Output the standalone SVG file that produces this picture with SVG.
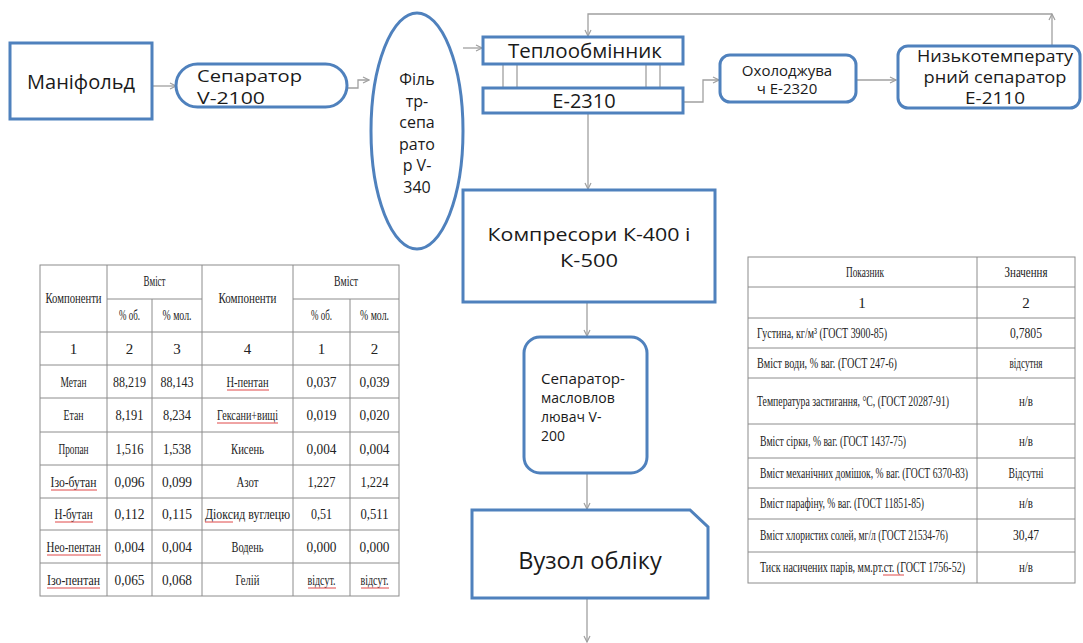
<svg xmlns="http://www.w3.org/2000/svg" width="1083" height="643" viewBox="0 0 1083 643">
<style>
.nd{fill:#fff;stroke:#4f81bd;stroke-width:3}
.cn{fill:none;stroke:#a0a0a0;stroke-width:1.3}
.lb{font-family:"Open Sans","Noto Sans",sans-serif;fill:#1a1a1a;text-anchor:middle}
.tl{stroke:#8c8c8c;stroke-width:1;fill:none}
.tt{font-family:"Liberation Serif","DejaVu Serif",serif;font-size:15px;fill:#222;text-anchor:middle}
.tx{font-family:"Liberation Serif","DejaVu Serif",serif;font-size:15px;fill:#222}
.ru{stroke:#e04848;stroke-width:1;fill:none}
</style>
<defs>
<marker id="ah" markerWidth="8" markerHeight="8" refX="7" refY="4" orient="auto" markerUnits="userSpaceOnUse">
<path d="M1,1 L7,4 L1,7" fill="none" stroke="#a0a0a0" stroke-width="1.2"/>
</marker>
</defs>
<rect width="1083" height="643" fill="#fff"/>

<g id="connectors">
<path class="cn" d="M152,86 H176" marker-end="url(#ah)"/>
<path class="cn" d="M347,88 H358 V80 H369" marker-end="url(#ah)"/>
<path class="cn" d="M463,48 H482" marker-end="url(#ah)"/>
<path class="cn" d="M683,102 H703 V80 H719" marker-end="url(#ah)"/>
<path class="cn" d="M856,80 H896" marker-end="url(#ah)"/>
<path class="cn" d="M1052,45 V14" marker-end="url(#ah)"/>
<path class="cn" d="M1052,14 H588 V36" marker-end="url(#ah)"/>
<path class="cn" d="M588,113 V189" marker-end="url(#ah)"/>
<path class="cn" d="M587,302 V336" marker-end="url(#ah)"/>
<path class="cn" d="M587,473 V509" marker-end="url(#ah)"/>
<path class="cn" d="M587,598 V642" marker-end="url(#ah)"/>
<path class="cn" d="M503,64 V88 M517,64 V88 M646,64 V88 M660,64 V88"/>
</g>

<g id="manifold">
<rect class="nd" x="10" y="43" width="142" height="76"/>
<text class="lb" x="81" y="89" font-size="20">Маніфольд</text>
</g>

<g id="separator-v2100">
<rect class="nd" x="176" y="64" width="171" height="43" rx="21.5"/>
<text class="lb" x="197" y="82" font-size="16" textLength="105" lengthAdjust="spacingAndGlyphs" style="text-anchor:start">Сепаратор</text>
<text class="lb" x="197" y="104" font-size="16" textLength="68" lengthAdjust="spacingAndGlyphs" style="text-anchor:start">V-2100</text>
</g>

<g id="filter-separator">
<ellipse class="nd" cx="417" cy="131" rx="46" ry="118"/>
<text class="lb" x="417" y="85" font-size="16">Філь</text>
<text class="lb" x="417" y="107" font-size="16">тр-</text>
<text class="lb" x="417" y="128" font-size="16">сепа</text>
<text class="lb" x="417" y="150" font-size="16">рато</text>
<text class="lb" x="417" y="171" font-size="16">р V-</text>
<text class="lb" x="417" y="193" font-size="16">340</text>
</g>

<g id="heat-exchanger">
<rect class="nd" x="483" y="37" width="200" height="27"/>
<text class="lb" x="585" y="58" font-size="20.5">Теплообмінник</text>
</g>

<g id="e2310">
<rect class="nd" x="483" y="88" width="200" height="25"/>
<text class="lb" x="584" y="108" font-size="20">E-2310</text>
</g>

<g id="cooler">
<rect class="nd" x="720" y="55" width="136" height="47" rx="10"/>
<text class="lb" x="787" y="76" font-size="15">Охолоджува</text>
<text class="lb" x="787" y="94" font-size="15">ч E-2320</text>
</g>

<g id="lt-separator">
<rect class="nd" x="898" y="46" width="182" height="62" rx="10"/>
<text class="lb" x="995" y="62" font-size="15.4" textLength="156" lengthAdjust="spacingAndGlyphs">Низькотемперату</text>
<text class="lb" x="995" y="83" font-size="15.4" textLength="143" lengthAdjust="spacingAndGlyphs">рний сепаратор</text>
<text class="lb" x="995" y="104" font-size="15.4" textLength="60" lengthAdjust="spacingAndGlyphs">E-2110</text>
</g>

<g id="compressors">
<rect class="nd" x="463" y="190" width="252" height="112"/>
<text class="lb" x="589" y="241" font-size="19" textLength="203" lengthAdjust="spacingAndGlyphs">Компресори К-400 і</text>
<text class="lb" x="589" y="267" font-size="19" textLength="58" lengthAdjust="spacingAndGlyphs">К-500</text>
</g>

<g id="oil-separator">
<rect class="nd" x="524" y="337" width="123" height="136" rx="16"/>
<text class="lb" x="541" y="384" font-size="14" textLength="84" lengthAdjust="spacingAndGlyphs" style="text-anchor:start">Сепаратор-</text>
<text class="lb" x="541" y="403" font-size="14" style="text-anchor:start">масловлов</text>
<text class="lb" x="541" y="422" font-size="14" style="text-anchor:start">лювач V-</text>
<text class="lb" x="541" y="441" font-size="14" style="text-anchor:start">200</text>
</g>

<g id="metering">
<path class="nd" d="M472,510 H690 L708,527 V598 H472 Z"/>
<text class="lb" x="590" y="569" font-size="23.5">Вузол обліку</text>
</g>

<g id="gas-table">
<rect class="tl" x="40" y="265" width="359" height="331"/>
<path class="tl" d="M107,265 V596 M202,265 V596 M293,265 V596 M152,299 V596 M350,299 V596 M107,299 H202 M293,299 H399 M40,332 H399 M40,365 H399 M40,398 H399 M40,432 H399 M40,465 H399 M40,498 H399 M40,530 H399 M40,563 H399"/>
<text class="tt" transform="translate(73.5,303) scale(0.7,1)" textLength="80" lengthAdjust="spacingAndGlyphs">Компоненти</text>
<text class="tt" transform="translate(154.5,286) scale(0.7,1)" textLength="31.4" lengthAdjust="spacingAndGlyphs">Вміст</text>
<text class="tt" transform="translate(129.5,320) scale(0.7,1)" textLength="30" lengthAdjust="spacingAndGlyphs">% об.</text>
<text class="tt" transform="translate(177,320) scale(0.7,1)" textLength="41.4" lengthAdjust="spacingAndGlyphs">% мол.</text>
<text class="tt" transform="translate(247.5,303) scale(0.7,1)" textLength="82.9" lengthAdjust="spacingAndGlyphs">Компоненти</text>
<text class="tt" transform="translate(346,286) scale(0.7,1)" textLength="34.3" lengthAdjust="spacingAndGlyphs">Вміст</text>
<text class="tt" transform="translate(321.5,320) scale(0.7,1)" textLength="30" lengthAdjust="spacingAndGlyphs">% об.</text>
<text class="tt" transform="translate(374.5,320) scale(0.7,1)" textLength="41.4" lengthAdjust="spacingAndGlyphs">% мол.</text>

<text class="tt" x="73.5" y="354">1</text>
<text class="tt" x="129.5" y="354">2</text>
<text class="tt" x="177" y="354">3</text>
<text class="tt" x="247.5" y="354">4</text>
<text class="tt" x="321.5" y="354">1</text>
<text class="tt" x="374.5" y="354">2</text>

<text class="tt" transform="translate(73.5,387) scale(0.7,1)" textLength="37.1" lengthAdjust="spacingAndGlyphs">Метан</text>
<text class="tt" transform="translate(73.5,420) scale(0.7,1)" textLength="28.6" lengthAdjust="spacingAndGlyphs">Етан</text>
<text class="tt" transform="translate(73.5,454) scale(0.7,1)" textLength="42.9" lengthAdjust="spacingAndGlyphs">Пропан</text>
<text class="tt" transform="translate(73.5,487) scale(0.7,1)" textLength="65.7" lengthAdjust="spacingAndGlyphs">Ізо-бутан</text>
<text class="tt" transform="translate(73.5,519) scale(0.7,1)" textLength="54.3" lengthAdjust="spacingAndGlyphs">Н-бутан</text>
<text class="tt" transform="translate(73.5,552) scale(0.7,1)" textLength="77.1" lengthAdjust="spacingAndGlyphs">Нео-пентан</text>
<text class="tt" transform="translate(73.5,585) scale(0.7,1)" textLength="75.7" lengthAdjust="spacingAndGlyphs">Ізо-пентан</text>

<text class="tt" x="129.5" y="387" textLength="33" lengthAdjust="spacingAndGlyphs">88,219</text>
<text class="tt" x="129.5" y="420" textLength="28" lengthAdjust="spacingAndGlyphs">8,191</text>
<text class="tt" x="129.5" y="454" textLength="28" lengthAdjust="spacingAndGlyphs">1,516</text>
<text class="tt" x="129.5" y="487" textLength="30" lengthAdjust="spacingAndGlyphs">0,096</text>
<text class="tt" x="129.5" y="519" textLength="30" lengthAdjust="spacingAndGlyphs">0,112</text>
<text class="tt" x="129.5" y="552" textLength="30" lengthAdjust="spacingAndGlyphs">0,004</text>
<text class="tt" x="129.5" y="585" textLength="30" lengthAdjust="spacingAndGlyphs">0,065</text>

<text class="tt" x="177" y="387" textLength="33" lengthAdjust="spacingAndGlyphs">88,143</text>
<text class="tt" x="177" y="420" textLength="28" lengthAdjust="spacingAndGlyphs">8,234</text>
<text class="tt" x="177" y="454" textLength="28" lengthAdjust="spacingAndGlyphs">1,538</text>
<text class="tt" x="177" y="487" textLength="30" lengthAdjust="spacingAndGlyphs">0,099</text>
<text class="tt" x="177" y="519" textLength="30" lengthAdjust="spacingAndGlyphs">0,115</text>
<text class="tt" x="177" y="552" textLength="30" lengthAdjust="spacingAndGlyphs">0,004</text>
<text class="tt" x="177" y="585" textLength="30" lengthAdjust="spacingAndGlyphs">0,068</text>

<text class="tt" transform="translate(247.5,387) scale(0.7,1)" textLength="60" lengthAdjust="spacingAndGlyphs">Н-пентан</text>
<text class="tt" transform="translate(247.5,420) scale(0.7,1)" textLength="87.1" lengthAdjust="spacingAndGlyphs">Гексани+вищі</text>
<text class="tt" transform="translate(247.5,454) scale(0.7,1)" textLength="47.1" lengthAdjust="spacingAndGlyphs">Кисень</text>
<text class="tt" transform="translate(247.5,487) scale(0.7,1)" textLength="31.4" lengthAdjust="spacingAndGlyphs">Азот</text>
<text class="tt" transform="translate(247.5,519) scale(0.7,1)" textLength="121.4" lengthAdjust="spacingAndGlyphs">Діоксид вуглецю</text>
<text class="tt" transform="translate(247.5,552) scale(0.7,1)" textLength="45.7" lengthAdjust="spacingAndGlyphs">Водень</text>
<text class="tt" transform="translate(247.5,585) scale(0.7,1)" textLength="34.3" lengthAdjust="spacingAndGlyphs">Гелій</text>

<text class="tt" x="321.5" y="387" textLength="30" lengthAdjust="spacingAndGlyphs">0,037</text>
<text class="tt" x="321.5" y="420" textLength="30" lengthAdjust="spacingAndGlyphs">0,019</text>
<text class="tt" x="321.5" y="454" textLength="30" lengthAdjust="spacingAndGlyphs">0,004</text>
<text class="tt" x="321.5" y="487" textLength="28" lengthAdjust="spacingAndGlyphs">1,227</text>
<text class="tt" x="321.5" y="519" textLength="21" lengthAdjust="spacingAndGlyphs">0,51</text>
<text class="tt" x="321.5" y="552" textLength="30" lengthAdjust="spacingAndGlyphs">0,000</text>
<text class="tt" transform="translate(321.5,585) scale(0.7,1)" textLength="40" lengthAdjust="spacingAndGlyphs">відсут.</text>

<text class="tt" x="374.5" y="387" textLength="30" lengthAdjust="spacingAndGlyphs">0,039</text>
<text class="tt" x="374.5" y="420" textLength="30" lengthAdjust="spacingAndGlyphs">0,020</text>
<text class="tt" x="374.5" y="454" textLength="30" lengthAdjust="spacingAndGlyphs">0,004</text>
<text class="tt" x="374.5" y="487" textLength="28" lengthAdjust="spacingAndGlyphs">1,224</text>
<text class="tt" x="374.5" y="519" textLength="28" lengthAdjust="spacingAndGlyphs">0,511</text>
<text class="tt" x="374.5" y="552" textLength="30" lengthAdjust="spacingAndGlyphs">0,000</text>
<text class="tt" transform="translate(374.5,585) scale(0.7,1)" textLength="40" lengthAdjust="spacingAndGlyphs">відсут.</text>

<path class="ru" d="M51,490 H97 M55,522 H93 M47,555 H101 M47,588 H100 M227,390 H269 M217,423 H278 M205,522 H233 M308,588 H336 M361,588 H389"/>
</g>

<g id="oil-table">
<rect class="tl" x="748" y="257" width="327" height="326"/>
<path class="tl" d="M977,257 V583 M748,287 H1075 M748,318 H1075 M748,348 H1075 M748,378 H1075 M748,424 H1075 M748,458 H1075 M748,488 H1075 M748,519 H1075 M748,552 H1075"/>
<text class="tt" transform="translate(865,277) scale(0.7,1)" textLength="54.3" lengthAdjust="spacingAndGlyphs">Показник</text>
<text class="tt" transform="translate(1026,277) scale(0.7,1)" textLength="61.4" lengthAdjust="spacingAndGlyphs">Значення</text>
<text class="tt" x="862" y="308">1</text>
<text class="tt" x="1026" y="308">2</text>

<text class="tx" transform="translate(757,338) scale(0.7,1)" textLength="185.7" lengthAdjust="spacingAndGlyphs">Густина, кг/м³ (ГОСТ 3900-85)</text>
<text class="tx" transform="translate(757,368) scale(0.7,1)" textLength="200" lengthAdjust="spacingAndGlyphs">Вміст води, % ваг. (ГОСТ 247-6)</text>
<text class="tx" transform="translate(757,406) scale(0.7,1)" textLength="274.3" lengthAdjust="spacingAndGlyphs">Температура застигання, °С, (ГОСТ 20287-91)</text>
<text class="tx" transform="translate(760,446) scale(0.7,1)" textLength="208.6" lengthAdjust="spacingAndGlyphs">Вміст сірки, % ваг. (ГОСТ 1437-75)</text>
<text class="tx" transform="translate(760,478) scale(0.7,1)" textLength="297.1" lengthAdjust="spacingAndGlyphs">Вміст механічних домішок, % ваг. (ГОСТ 6370-83)</text>
<text class="tx" transform="translate(760,508) scale(0.7,1)" textLength="234.3" lengthAdjust="spacingAndGlyphs">Вміст парафіну, % ваг. (ГОСТ 11851-85)</text>
<text class="tx" transform="translate(760,540) scale(0.7,1)" textLength="268.6" lengthAdjust="spacingAndGlyphs">Вміст хлористих солей, мг/л (ГОСТ 21534-76)</text>
<text class="tx" transform="translate(760,572) scale(0.7,1)" textLength="292.9" lengthAdjust="spacingAndGlyphs">Тиск насичених парів, мм.рт.ст. (ГОСТ 1756-52)</text>

<text class="tt" x="1026" y="338" textLength="32" lengthAdjust="spacingAndGlyphs">0,7805</text>
<text class="tt" transform="translate(1026,368) scale(0.7,1)" textLength="47.1" lengthAdjust="spacingAndGlyphs">відсутня</text>
<text class="tt" x="1026" y="406" textLength="14" lengthAdjust="spacingAndGlyphs">н/в</text>
<text class="tt" x="1026" y="446" textLength="14" lengthAdjust="spacingAndGlyphs">н/в</text>
<text class="tt" transform="translate(1026,478) scale(0.7,1)" textLength="50" lengthAdjust="spacingAndGlyphs">Відсутні</text>
<text class="tt" x="1026" y="508" textLength="14" lengthAdjust="spacingAndGlyphs">н/в</text>
<text class="tt" x="1026" y="540" textLength="26" lengthAdjust="spacingAndGlyphs">30,47</text>
<text class="tt" x="1026" y="572" textLength="14" lengthAdjust="spacingAndGlyphs">н/в</text>
<path class="ru" d="M883,575 H904"/>
</g>
</svg>
